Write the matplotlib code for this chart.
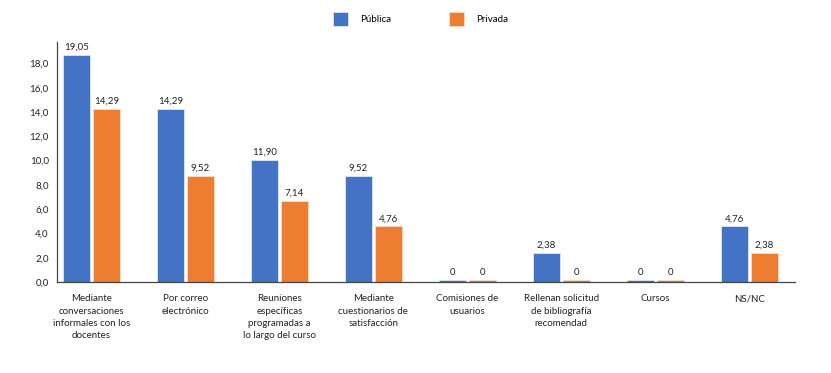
import matplotlib
matplotlib.use("Agg")
from matplotlib import pyplot as plt
import numpy as np

plt.rcParams['font.family'] = ['Lato', 'DejaVu Sans']

categories = [
    "Mediante\nconversaciones\ninformales con los\ndocentes",
    "Por correo\nelectrónico",
    "Reuniones\nespecíficas\nprogramadas a\nlo largo del curso",
    "Mediante\ncuestionarios de\nsatisfacción",
    "Comisiones de\nusuarios",
    "Rellenan solicitud\nde bibliografía\nrecomendad",
    "Cursos",
    "NS/NC",
]

# bar heights as drawn in the picture
publica = [18.7, 14.24, 10.05, 8.73, 0.15, 2.41, 0.15, 4.58]
privada = [14.24, 8.71, 6.71, 4.58, 0.15, 0.15, 0.15, 2.38]

# value labels as printed
publica_lbl = ["19,05", "14,29", "11,90", "9,52", "0", "2,38", "0", "4,76"]
privada_lbl = ["14,29", "9,52", "7,14", "4,76", "0", "0", "0", "2,38"]

yticks = [0, 2, 4, 6, 8, 10, 12, 14, 16, 18]

BLUE = "#4472C4"
ORANGE = "#ED7D31"
W = 0.288
OFF = 0.16

fig = plt.figure(figsize=(8.31, 3.73), dpi=100)
ax = fig.add_axes([0.0686, 0.244, 0.957 - 0.0686, 0.887 - 0.244])

x = np.arange(len(categories))
b1 = ax.bar(x - OFF, publica, W, color=BLUE, edgecolor="#dde6f5", linewidth=0.6, label="Pública")
b2 = ax.bar(x + OFF, privada, W, color=ORANGE, edgecolor="#f8ddc8", linewidth=0.6, label="Privada")

for rect, t in zip(b1, publica_lbl):
    ax.text(rect.get_x() + rect.get_width() / 2, rect.get_height() + 0.25, t,
            ha="center", va="bottom", fontsize=7, color="#222222")
for rect, t in zip(b2, privada_lbl):
    ax.text(rect.get_x() + rect.get_width() / 2, rect.get_height() + 0.25, t,
            ha="center", va="bottom", fontsize=7, color="#222222")

ax.set_xlim(-0.367, 7.49)
ax.set_ylim(0, 19.75)
ax.set_yticks(yticks)
ax.set_yticklabels([f"{v:.1f}".replace(".", ",") for v in yticks], fontsize=7, color="#222222")
ax.set_xticks(x)
ax.set_xticklabels(categories, fontsize=7, color="#222222", linespacing=1.45, va="top")
ax.tick_params(axis="both", length=0)
ax.tick_params(axis="x", pad=9)
ax.tick_params(axis="y", pad=6)

for s in ["top", "right"]:
    ax.spines[s].set_visible(False)
ax.spines["left"].set_color("#444444")
ax.spines["bottom"].set_color("#444444")
ax.spines["left"].set_linewidth(0.9)
ax.spines["bottom"].set_linewidth(0.9)

fig.legend(handles=[b1, b2], loc="center", bbox_to_anchor=(0.506, 0.95), ncol=2,
           frameon=False, fontsize=7, handlelength=1.55, handleheight=1.85,
           handletextpad=1.2, columnspacing=6.0)

fig.savefig("out.png", dpi=100)
